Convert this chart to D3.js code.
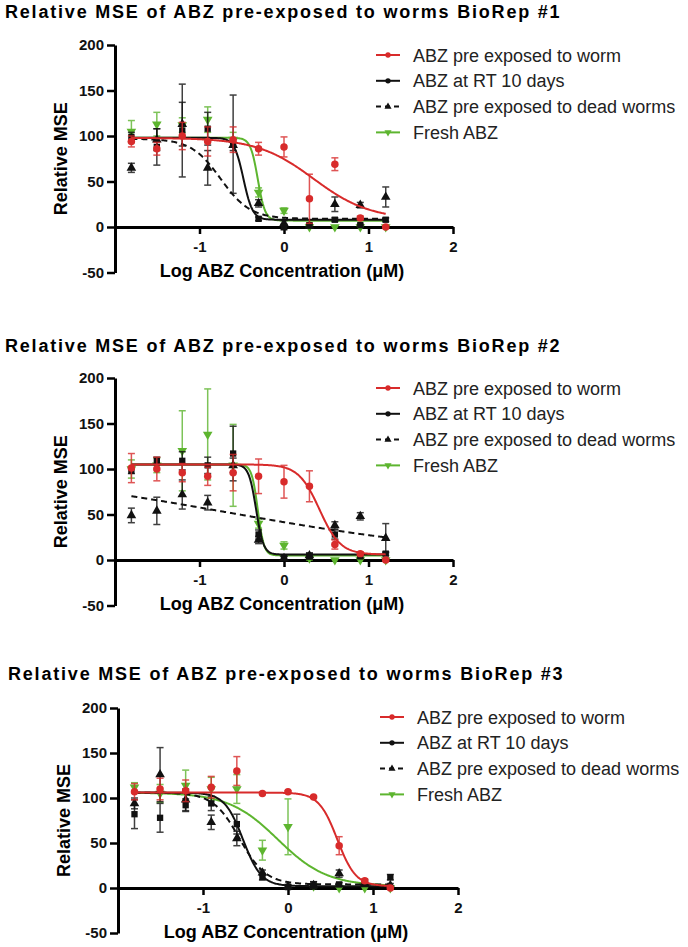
<!DOCTYPE html>
<html>
<head>
<meta charset="utf-8">
<script src="https://cdn.jsdelivr.net/npm/d3@7"></script>
<style>
body { margin: 0; background: #fff; }
svg { font-family: Arial, "Liberation Sans", sans-serif; }
</style>
</head>
<body>
<svg width="688" height="947"></svg>
<script>
// log10 of the concentrations (uM), 2-fold dilutions from 16 uM down
var logConc = [-1.806, -1.505, -1.204, -0.903, -0.602, -0.301, 0, 0.301, 0.602, 0.903, 1.204];

var seriesNames = ["ABZ pre exposed to worm", "ABZ at RT 10 days", "ABZ pre exposed to dead worms", "Fresh ABZ"];
var yTicks = [-50, 0, 50, 100, 150, 200];
var xTicks = [-1, 0, 1, 2];

// BioRep #1 (mean, SD)
var rep1Worm    = [94, 86, 100, 94, 96, 86, 88, 31, 69, 10, 0];
var rep1WormSd  = [6, 7, 15, 16, 14, 7, 11, 27, 7, 2, 1];
var rep1Rt      = [99, 88, 106, 108, 91, 9, 0, 2, 8, 2, 8];
var rep1RtSd    = [5, 20, 51, 18, 54, 2, 3, 2, 2, 1, 2];
var rep1Dead    = [65, 96, 113, 65, 90, 26, 4, 1, 25, 24, 33];
var rep1DeadSd  = [5, 12, 24, 19, 6, 4, 3, 2, 8, 3, 11];
var rep1Fresh   = [105, 113, 112, 118, 96, 38, 18, 0, 0, 0, 0];
var rep1FreshSd = [12, 13, 8, 14, 8, 5, 3, 0, 0, 0, 0];

// BioRep #2
var rep2Worm    = [101, 100, 96, 92, 96, 92, 86, 81, 17, 7, 0];
var rep2WormSd  = [16, 13, 10, 10, 20, 19, 18, 17, 5, 2, 1];
var rep2Rt      = [98, 109, 109, 104, 117, 28, 2, 4, 28, 4, 7];
var rep2RtSd    = [3, 4, 10, 9, 30, 5, 2, 3, 5, 2, 2];
var rep2Dead    = [49, 54, 72, 63, 104, 22, 2, 5, 38, 48, 24];
var rep2DeadSd  = [8, 15, 16, 8, 8, 4, 2, 3, 4, 4, 16];
var rep2Fresh   = [100, 104, 120, 138, 104, 40, 16, 2, 0, 0, 0];
var rep2FreshSd = [10, 8, 44, 50, 45, 5, 4, 2, 0, 0, 0];

// BioRep #3
var rep3Worm    = [107, 110, 108, 112, 130, 105, 107, 101, 47, 8, 0];
var rep3WormSd  = [9, 12, 12, 12, 16, 1, 1, 1, 10, 2, 1];
var rep3Rt      = [82, 78, 92, 94, 71, 12, 1, 3, 4, 7, 12];
var rep3RtSd    = [16, 16, 7, 8, 11, 3, 2, 4, 2, 2, 3];
var rep3Dead    = [94, 126, 98, 73, 55, 17, 2, 3, 16, 5, 3];
var rep3DeadSd  = [6, 30, 12, 8, 8, 3, 2, 4, 4, 2, 2];
var rep3Fresh   = [112, 105, 114, 110, 110, 42, 68, 2, 0, 0, 0];
var rep3FreshSd = [5, 10, 17, 13, 16, 11, 31, 2, 0, 0, 0];

// dose-response fits: [top, bottom, logIC50, hill slope]
var rep1Fits = [[98, 8, 0.35, 1.3], [98, 8, -0.48, 8], [97, 9, -0.75, 2.5], [98, 7, -0.31, 10]];
var rep2Fits = [[105, 6, 0.42, 3.5], [105, 6, -0.33, 10], [105, 0, -0.68, 0.27], [105, 5, -0.31, 12]];
var rep3Fits = [[106, 2, 0.58, 4], [106, 2, -0.53, 4], [106, 4, -0.57, 2.8], [106, 2, -0.12, 1.5]];

var styles = [
    {color: "#d82b2b", dash: null, symbol: d3.symbolCircle, rot: 0, size: 44},
    {color: "#111111", dash: null, symbol: d3.symbolSquare, rot: 0, size: 40},
    {color: "#111111", dash: "6,4", symbol: d3.symbolTriangle, rot: 0, size: 40},
    {color: "#5db52f", dash: null, symbol: d3.symbolTriangle, rot: 180, size: 40}
];

var panels = [
    {title: "Relative MSE of ABZ pre-exposed to worms BioRep #1",
     means: [rep1Worm, rep1Rt, rep1Dead, rep1Fresh], sds: [rep1WormSd, rep1RtSd, rep1DeadSd, rep1FreshSd],
     fits: rep1Fits, tx: 5, ty: 18, x0: 115, x1: 453, yTop: 45, yBot: 272.5, legX: 376, legY: 55},
    {title: "Relative MSE of ABZ pre-exposed to worms BioRep #2",
     means: [rep2Worm, rep2Rt, rep2Dead, rep2Fresh], sds: [rep2WormSd, rep2RtSd, rep2DeadSd, rep2FreshSd],
     fits: rep2Fits, tx: 5, ty: 352, x0: 115, x1: 453, yTop: 378, yBot: 605.5, legX: 376, legY: 388},
    {title: "Relative MSE of ABZ pre-exposed to worms BioRep #3",
     means: [rep3Worm, rep3Rt, rep3Dead, rep3Fresh], sds: [rep3WormSd, rep3RtSd, rep3DeadSd, rep3FreshSd],
     fits: rep3Fits, tx: 8, ty: 680, x0: 118, x1: 458, yTop: 708, yBot: 933, legX: 380, legY: 717}
];

function hill(p, x) {
    return p[1] + (p[0] - p[1]) / (1 + Math.pow(10, (x - p[2]) * p[3]));
}

// plain hyphen for negatives, like the original
function tickFmt(d) { return d < 0 ? "-" + (-d) : "" + d; }

var svg = d3.select("svg");
var drawOrder = [3, 2, 1, 0];

panels.forEach(function(pn) {
    var g = svg.append("g");
    var x = d3.scaleLinear().domain([-2, 2]).range([pn.x0, pn.x1]);
    var y = d3.scaleLinear().domain([-50, 200]).range([pn.yBot, pn.yTop]);

    // title
    g.append("text")
        .attr("x", pn.tx).attr("y", pn.ty)
        .style("font-size", "18px").style("font-weight", "bold")
        .style("letter-spacing", "1.8px")
        .text(pn.title);

    // y axis
    var yAxis = g.append("g")
        .attr("transform", "translate(" + pn.x0 + ",0)")
        .call(d3.axisLeft(y).tickValues(yTicks).tickSize(8).tickSizeOuter(0).tickPadding(3).tickFormat(tickFmt));
    // x axis sits on y = 0
    var xAxis = g.append("g")
        .attr("transform", "translate(0," + y(0) + ")")
        .call(d3.axisBottom(x).tickValues(xTicks).tickSize(7).tickSizeOuter(0).tickPadding(7).tickFormat(tickFmt));
    [yAxis, xAxis].forEach(function(a) {
        a.select(".domain").attr("stroke-width", 3);
        a.selectAll(".tick line").attr("stroke-width", 2.5);
        a.selectAll(".tick text").style("font-size", "15px").style("font-weight", "bold").attr("fill", "#111");
    });

    // axis titles
    g.append("text")
        .attr("transform", "translate(" + (pn.x0 - 48) + "," + ((pn.yTop + pn.yBot) / 2) + ") rotate(-90)")
        .attr("text-anchor", "middle")
        .style("font-size", "18px").style("font-weight", "bold")
        .text("Relative MSE");
    g.append("text")
        .attr("x", (pn.x0 + pn.x1) / 2 - 2).attr("y", y(0) + 50)
        .attr("text-anchor", "middle")
        .style("font-size", "18px").style("font-weight", "bold")
        .text("Log ABZ Concentration (\u03BCM)");

    var line = d3.line()
        .x(function(d) { return x(d[0]); })
        .y(function(d) { return y(d[1]); });

    drawOrder.forEach(function(s) {
        var st = styles[s];
        var means = pn.means[s], sds = pn.sds[s], fit = pn.fits[s];
        var sg = g.append("g");

        // error bars
        var pts = logConc.map(function(c, i) { return {c: c, m: means[i], sd: sds[i]}; });
        var eb = sg.selectAll(".err").data(pts.filter(function(d) { return d.sd > 0; }))
            .enter().append("g").attr("class", "err")
            .attr("stroke", st.color).attr("stroke-width", 1.5).attr("opacity", 0.8);
        eb.append("line")
            .attr("x1", function(d) { return x(d.c); }).attr("x2", function(d) { return x(d.c); })
            .attr("y1", function(d) { return y(d.m - d.sd); }).attr("y2", function(d) { return y(d.m + d.sd); });
        eb.append("line")
            .attr("x1", function(d) { return x(d.c) - 3.5; }).attr("x2", function(d) { return x(d.c) + 3.5; })
            .attr("y1", function(d) { return y(d.m + d.sd); }).attr("y2", function(d) { return y(d.m + d.sd); });
        eb.append("line")
            .attr("x1", function(d) { return x(d.c) - 3.5; }).attr("x2", function(d) { return x(d.c) + 3.5; })
            .attr("y1", function(d) { return y(d.m - d.sd); }).attr("y2", function(d) { return y(d.m - d.sd); });

        // fitted curve
        var lo = logConc[0], hi = logConc[logConc.length - 1];
        var curve = d3.range(0, 301).map(function(i) {
            var xv = lo + (hi - lo) * i / 300;
            return [xv, hill(fit, xv)];
        });
        sg.append("path")
            .attr("d", line(curve))
            .attr("fill", "none")
            .attr("stroke", st.color)
            .attr("stroke-width", 2)
            .attr("stroke-dasharray", st.dash);

        // markers
        sg.selectAll(".pt").data(pts).enter().append("path")
            .attr("d", d3.symbol().type(st.symbol).size(st.size))
            .attr("transform", function(d) {
                return "translate(" + x(d.c) + "," + y(d.m) + ") rotate(" + st.rot + ")";
            })
            .attr("fill", st.color);
    });

    // legend
    seriesNames.forEach(function(name, i) {
        var st = styles[i];
        var ly = pn.legY + i * 25.8;
        g.append("line")
            .attr("x1", pn.legX).attr("x2", pn.legX + 24)
            .attr("y1", ly).attr("y2", ly)
            .attr("stroke", st.color).attr("stroke-width", 2)
            .attr("stroke-dasharray", st.dash ? "5,4" : null);
        g.append("path")
            .attr("d", d3.symbol().type(i === 1 ? d3.symbolCircle : st.symbol).size(22))
            .attr("transform", "translate(" + (pn.legX + 12) + "," + ly + ") rotate(" + st.rot + ")")
            .attr("fill", st.color);
        g.append("text")
            .attr("x", pn.legX + 37).attr("y", ly + 6.5)
            .style("font-size", "18px")
            .attr("fill", "#222")
            .text(name);
    });
});
</script>
</body>
</html>
